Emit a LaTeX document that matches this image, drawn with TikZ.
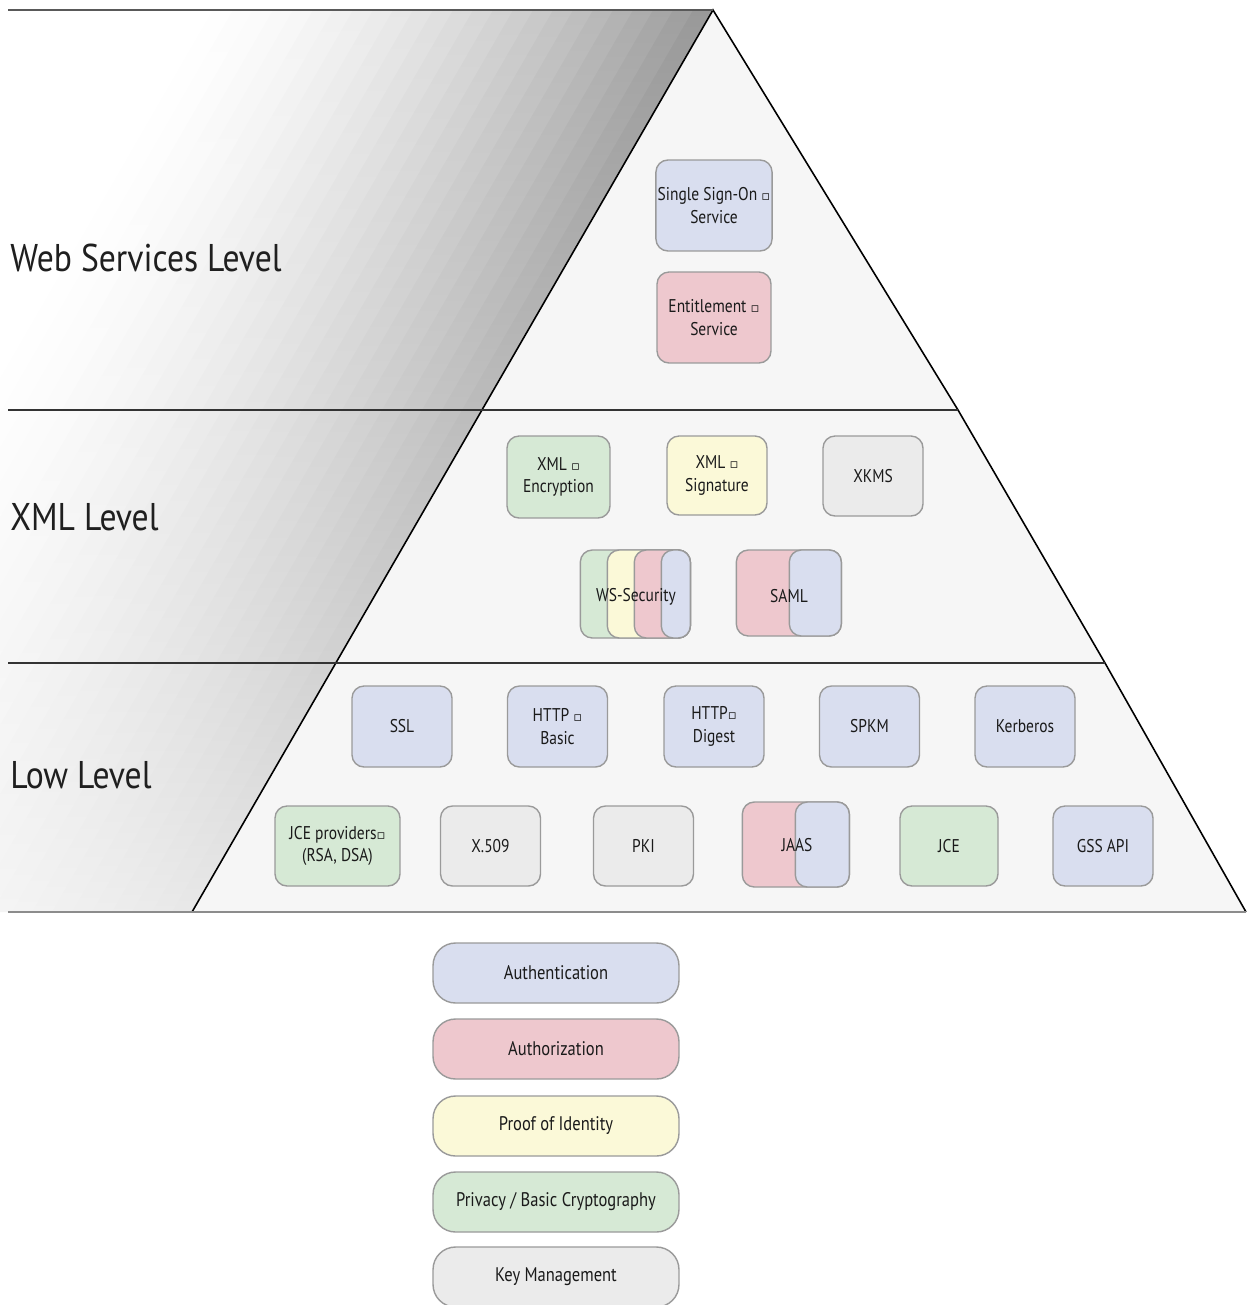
\documentclass[tikz,border=0pt]{standalone}
\usepackage{fontspec}
\setmainfont{PT Sans}
\newfontfamily\condfont{PT Sans}[FakeStretch=0.84]
\newfontfamily\lvlfont{PT Sans}[FakeStretch=0.87]
\newfontfamily\symfont{DejaVu Sans}
\newcommand\tinysq{{\symfont\fontsize{7.5}{7.5}\selectfont ▫}}
\definecolor{cblue}{HTML}{D9DEEF}
\definecolor{cred}{HTML}{EEC8CE}
\definecolor{cyel}{HTML}{FBF9D8}
\definecolor{cgreen}{HTML}{D6E9D5}
\definecolor{cgray}{HTML}{EBEBEB}
\definecolor{cborder}{HTML}{9A9A9A}
\definecolor{tribg}{HTML}{F6F6F6}
\definecolor{txt}{HTML}{1A1A1A}
\tikzset{
  box/.style={draw=cborder, line width=0.8pt, rounded corners=0.24cm,
    minimum width=2cm, minimum height=1.62cm, inner sep=1pt, align=center,
    font=\condfont\fontsize{10.5}{12.8}\selectfont, text=txt},
  legendbox/.style={box, rounded corners=0.45cm, minimum width=4.92cm, minimum height=1.2cm,
    font=\condfont\fontsize{11.2}{13}\selectfont},
  lvl/.style={anchor=west, font=\lvlfont\fontsize{22}{26}\selectfont, text=black!88, inner sep=0pt},
  lbl/.style={font=\condfont\fontsize{10.5}{12.8}\selectfont, text=txt, inner sep=0pt, align=center},
  hline/.style={line width=1.1pt, black!80},
}
\begin{document}
\begin{tikzpicture}[x=0.02cm, y=-0.02cm]
\useasboundingbox (0,0) rectangle (1248,1305);
\fill[white] (0,0) rectangle (1248,1305);
% gradient band
\begin{scope}
\clip (0,10) -- (713,10) -- (192,912) -- (0,912) -- cycle;
\foreach \i in {0,...,25}{
  \pgfmathsetmacro\da{\i*20}
  \pgfmathsetmacro\db{\i*20+21}
  \pgfmathsetmacro\kt{40*(1-\i/26)^1.7}
  \pgfmathsetmacro\kb{\kt*0.22}
  \shade[top color=black!\kt, bottom color=black!\kb]
    (713-\db,10) -- (713-\da,10) -- (192-\da,912) -- (192-\db,912) -- cycle;
}
\end{scope}
% triangle
\coordinate (apex) at (713,10);
\coordinate (bl) at (192,912);
\coordinate (br) at (1246,912);
\fill[tribg] (apex) -- (958,410) -- (1105,663) -- (br) -- (bl) -- cycle;
\draw[line width=0.9pt, black] (bl) -- (apex) -- (958,410) -- (1105,663) -- (br);
% level lines
\draw[line width=1.1pt, black!65] (8,10) -- (apex);
\draw[hline] (8,410) -- (958,410);
\draw[hline] (8,663) -- (1105,663);
\draw[line width=1.3pt, black!45] (8,912) -- (br);
% level labels
\node[lvl] (lweb) at (10,258) {Web Services Level};
\node[lvl] (lxml) at (10,517) {XML Level};
\node[lvl] (llow) at (10,775) {Low Level};
% web services level
\node[box, fill=cblue, minimum width=2.28cm, minimum height=1.82cm] (sso) at (714,205.5) {Single Sign-On \tinysq\\Service};
\node[box, fill=cred, minimum width=2.28cm, minimum height=1.82cm] (ent) at (714,317.5) {Entitlement \tinysq\\Service};
% xml level
\node[box, fill=cgreen, minimum width=2.06cm, minimum height=1.64cm] (xenc) at (558.5,477) {XML \tinysq\\Encryption};
\node[box, fill=cyel, minimum height=1.58cm] (xsig) at (717,475.5) {XML \tinysq\\Signature};
\node[box, fill=cgray, minimum height=1.6cm] (xkms) at (873,476) {XKMS};
\node[box, fill=cgreen, minimum width=2.2cm, minimum height=1.76cm, anchor=east] (wsg) at (691,594) {};
\node[box, fill=cyel, minimum width=1.66cm, minimum height=1.76cm, anchor=east] (wsy) at (691,594) {};
\node[box, fill=cred, minimum width=1.12cm, minimum height=1.76cm, anchor=east] (wsr) at (691,594) {};
\node[box, fill=cblue, minimum width=0.58cm, minimum height=1.76cm, anchor=east] (wsb) at (691,594) {};
\node[lbl] (wst) at (636,597) {WS-Security};
\node[box, fill=cred, minimum width=2.1cm, minimum height=1.72cm, anchor=east] (samr) at (842,593) {};
\node[box, fill=cblue, minimum width=1.04cm, minimum height=1.72cm, anchor=east] (samb) at (842,593) {};
\node[lbl] (samt) at (789,596) {SAML};
% low level row 1
\node[box, fill=cblue] (ssl) at (402,726.5) {SSL};
\node[box, fill=cblue] (hb) at (557.5,726.5) {HTTP \tinysq\\Basic};
\node[box, fill=cblue] (hd) at (714,726.5) {HTTP\tinysq\\Digest};
\node[box, fill=cblue] (spkm) at (869.5,726.5) {SPKM};
\node[box, fill=cblue] (kerb) at (1025,726.5) {Kerberos};
% low level row 2
\node[box, fill=cgreen, minimum width=2.5cm, minimum height=1.6cm] (jcep) at (337.5,846) {JCE providers\tinysq\\(RSA, DSA)};
\node[box, fill=cgray, minimum height=1.6cm] (x509) at (490.5,846) {X.509};
\node[box, fill=cgray, minimum height=1.6cm] (pki) at (643.5,846) {PKI};
\node[box, fill=cred, minimum width=2.14cm, minimum height=1.7cm, anchor=east] (jaasr) at (850,844.5) {};
\node[box, fill=cblue, minimum width=1.08cm, minimum height=1.7cm, anchor=east] (jaasb) at (850,844.5) {};
\node[lbl] (jaast) at (797,845) {JAAS};
\node[box, fill=cgreen, minimum width=1.96cm, minimum height=1.6cm] (jce) at (949,846) {JCE};
\node[box, fill=cblue, minimum height=1.6cm] (gss) at (1103,846) {GSS API};
% legend
\node[legendbox, fill=cblue] (lg1) at (556,973) {Authentication};
\node[legendbox, fill=cred] (lg2) at (556,1049) {Authorization};
\node[legendbox, fill=cyel] (lg3) at (556,1126) {Proof of Identity};
\node[legendbox, fill=cgreen] (lg4) at (556,1202) {Privacy / Basic Cryptography};
\node[legendbox, fill=cgray] (lg5) at (556,1277) {Key Management};
\end{tikzpicture}
\end{document}
